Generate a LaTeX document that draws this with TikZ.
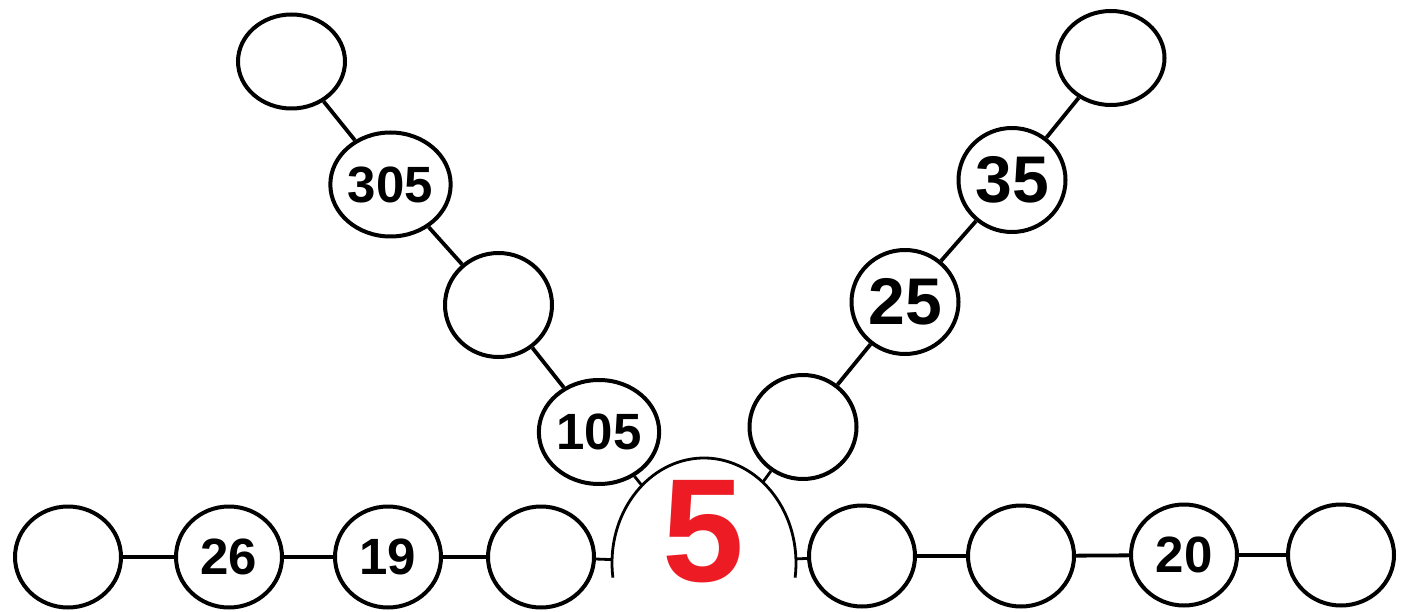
\documentclass[tikz,border=0pt]{standalone}
\usepackage{fontspec}
\setmainfont{Liberation Sans}
\usetikzlibrary{shapes.geometric}
\definecolor{fivered}{RGB}{237,28,36}
\tikzset{
  x=1pt, y=1pt,
  ball/.style={ellipse, draw=black, line width=4pt, fill=white, inner sep=0pt,
     font=\fontsize{51}{51}\selectfont\bfseries},
  lowball/.style={ball, minimum width=106pt, minimum height=101pt},
  diagball/.style={ball, minimum width=107pt, minimum height=104pt},
  topball/.style={ball, minimum width=107pt, minimum height=94pt},
  bigball/.style={font=\fontsize{66}{66}\selectfont\bfseries},
  conn/.style={line width=3.8pt},
  thinconn/.style={line width=2.8pt}
}
\begin{document}
\begin{tikzpicture}
\useasboundingbox (0,0) rectangle (1408,-612);
% big centre
\node[ellipse, minimum width=184pt, minimum height=210pt, inner sep=0pt] (big) at (704,-563) {};
\draw[line width=2.8pt] ([shift={(188:92 and 105)}]704,-563) arc[start angle=188, end angle=-8, x radius=92, y radius=105];
\node[text=fivered, font=\fontsize{147}{147}\selectfont\bfseries, inner sep=0pt] (five) at (703,-532) {5};
% bottom row
\node[lowball] (l1) at (68,-557) {};
\node[lowball] (l2) at (229,-557) {26};
\node[lowball] (l3) at (388,-557) {19};
\node[lowball] (l4) at (541,-557) {};
\node[lowball] (r1) at (862,-556) {};
\node[lowball] (r2) at (1021,-556) {};
\node[lowball] (r3) at (1184,-555) {20};
\node[lowball] (r4) at (1341,-555) {};
% left diagonal
\node[diagball] (d1) at (599,-432) {105};
\node[diagball] (d2) at (498.5,-305) {};
\node[diagball] (d3) at (390.5,-184.5) {305};
\node[topball] (d4) at (291.5,-61.5) {};
% right diagonal
\node[diagball] (e1) at (803,-427) {};
\node[diagball, bigball] (e2) at (905,-302) {25};
\node[diagball, bigball] (e3) at (1012,-180) {35};
\node[topball] (e4) at (1111,-58) {};
% connectors
\draw[conn] (l1) -- (l2);
\draw[conn] (l2) -- (l3);
\draw[conn] (l3) -- (l4);
\draw[thinconn] (l4) -- (big);
\draw[thinconn] (r1) -- (big);
\draw[conn] (r1) -- (r2);
\draw[conn] (r2) -- (r3);
\draw[conn] (r3) -- (r4);
\draw[thinconn] (d1) -- (big);
\draw[conn] (d1) -- (d2);
\draw[conn] (d2) -- (d3);
\draw[conn] (d3) -- (d4);
\draw[thinconn] (e1) -- (big);
\draw[conn] (e1) -- (e2);
\draw[conn] (e2) -- (e3);
\draw[conn] (e3) -- (e4);
\end{tikzpicture}
\end{document}
